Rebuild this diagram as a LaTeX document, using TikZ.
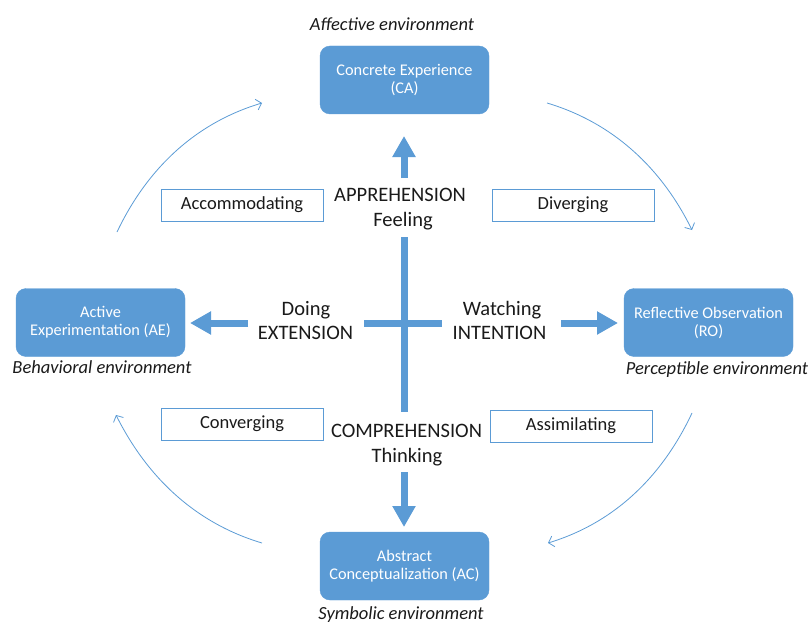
\documentclass[tikz,border=0pt]{standalone}
\usepackage{fontspec}
\setmainfont{Carlito}
\usetikzlibrary{arrows.meta}
\definecolor{kblue}{HTML}{5B9BD5}
\definecolor{ktext}{HTML}{1A1A1A}
\begin{document}
\begin{tikzpicture}[x=1pt,y=-1pt,
  modebox/.style={draw=kblue,fill=kblue,rounded corners=10pt,text=white,minimum width=169pt,minimum height=68pt,align=center,inner sep=0pt,font=\fontsize{16.3}{18}\selectfont},
  stylebox/.style={draw=kblue,line width=0.9pt,fill=white,minimum width=162pt,minimum height=32pt,inner sep=0pt,text=ktext,font=\fontsize{18.5}{22}\selectfont},
  envlabel/.style={anchor=base,inner sep=0pt,text=ktext,font=\fontsize{18.5}{22}\selectfont\itshape},
  dimlabel/.style={anchor=base,inner sep=0pt,text=ktext,font=\fontsize{20.5}{25}\selectfont},
  bar/.style={draw=kblue,line width=7pt},
  barrow/.style={draw=kblue,line width=7pt,-{Triangle[length=21pt,width=22pt]}},
  cyc/.style={draw=kblue,line width=0.8pt,-{Straight Barb[length=5pt,width=11pt]}}]
\useasboundingbox (0,0) rectangle (811,623);

% learning modes
\node[modebox] (CE) at (404.5,80) {Concrete Experience\\(CA)};
\node[modebox] (AE) at (100.5,322.5) {Active\\Experimentation (AE)};
\node[modebox] (RO) at (708.5,322.5) {Reflective Observation\\(RO)};
\node[modebox] (AC) at (404.5,566) {Abstract\\Conceptualization (AC)};

% environments
\node[envlabel] (envA) at (392,31) {Affective environment};
\node[envlabel] (envB) at (102,373) {Behavioral environment};
\node[envlabel] (envP) at (717,374) {Perceptible environment};
\node[envlabel] (envS) at (401,619) {Symbolic environment};

% learning styles
\node[stylebox] (acc) at (242,205) {Accommodating};
\node[stylebox] (div) at (573,205) {Diverging};
\node[stylebox] (con) at (242,424) {Converging};
\node[stylebox] (ass) at (571,426) {Assimilating};

% dimension labels
\node[dimlabel] (appr) at (400,201.5) {APPREHENSION};
\node[dimlabel] (feel) at (403,226.5) {Feeling};
\node[dimlabel] (doing) at (306,315.5) {Doing};
\node[dimlabel] (ext) at (305.5,339.5) {EXTENSION};
\node[dimlabel] (watch) at (502,315.5) {Watching};
\node[dimlabel] (int) at (499.5,339.5) {INTENTION};
\node[dimlabel] (comp) at (406.5,437) {COMPREHENSION};
\node[dimlabel] (think) at (407,462) {Thinking};

% central cross
\coordinate (vt) at (404,237);
\coordinate (vb) at (404,412);
\coordinate (hl) at (364,323);
\coordinate (hr) at (442,323);
\draw[bar] (vt) -- (vb);
\draw[bar] (hl) -- (hr);

% block arrows
\coordinate (upS) at (404,178);
\coordinate (upT) at (404,136);
\coordinate (dnS) at (404,472);
\coordinate (dnT) at (404,527);
\coordinate (lfS) at (248,323);
\coordinate (lfT) at (190,323);
\coordinate (rtS) at (561,323);
\coordinate (rtT) at (618,323);
\draw[barrow] (upS) -- (upT);
\draw[barrow] (dnS) -- (dnT);
\draw[barrow] (lfS) -- (lfT);
\draw[barrow] (rtS) -- (rtT);

% cycle arcs
\coordinate (a1s) at (117,232);
\coordinate (a1e) at (262,103);
\coordinate (a2s) at (547,103);
\coordinate (a2e) at (692,230);
\coordinate (a3s) at (692,413);
\coordinate (a3e) at (548,543);
\coordinate (a4s) at (262,543);
\coordinate (a4e) at (116,415);
\draw[cyc] (a1s) .. controls (147,169) and (195,123) .. (a1e);
\draw[cyc] (a2s) .. controls (614,123) and (662,169) .. (a2e);
\draw[cyc] (a3s) .. controls (662,477) and (614,523) .. (a3e);
\draw[cyc] (a4s) .. controls (195,523) and (147,477) .. (a4e);
\end{tikzpicture}
\end{document}
